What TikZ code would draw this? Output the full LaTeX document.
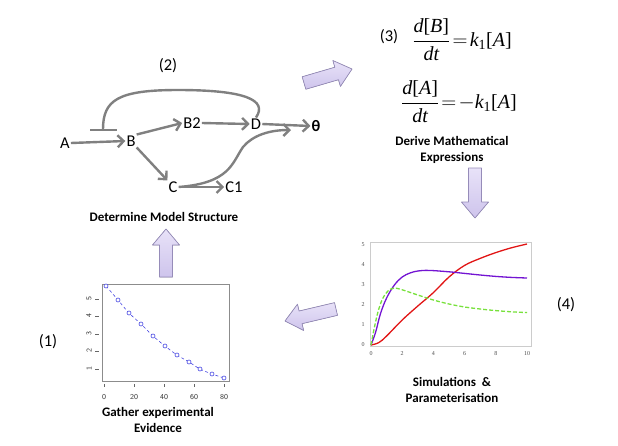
\documentclass[tikz,border=0pt]{standalone}
\usepackage{fontspec}
\usepackage{amsmath}
\setmainfont{Carlito}
\newfontfamily\tms{Liberation Serif}
\usetikzlibrary{arrows.meta,calc}
\definecolor{cgray}{RGB}{128,128,128}
\definecolor{lavtop}{RGB}{232,226,248}
\definecolor{lavbot}{RGB}{206,196,236}
\definecolor{lavborder}{RGB}{150,140,185}
\definecolor{ptblue}{RGB}{70,70,225}
\definecolor{cred}{RGB}{225,20,20}
\definecolor{cpurple}{RGB}{115,20,210}
\definecolor{cgreen}{RGB}{120,225,60}
\newcommand{\ti}[1]{\text{\tms\itshape #1}}
\newcommand{\tu}[1]{\text{\tms #1}}
\newcommand{\blkarrow}[2]{%
  \path ($(#2)!16pt!(#1)$) coordinate (bm);
  \filldraw[barrow] ($(#1)!6.5pt!90:(#2)$) -- ($(bm)!6.5pt!-90:(#1)$) -- ($(bm)!13.5pt!-90:(#1)$) -- (#2)
    -- ($(bm)!13.5pt!90:(#1)$) -- ($(bm)!6.5pt!90:(#1)$) -- ($(#1)!6.5pt!-90:(#2)$) -- cycle;}
\tikzset{
  lbl/.style={font=\fontsize{16.5}{19}\selectfont, inner sep=1pt},
  capt/.style={font=\bfseries\fontsize{13}{15.5}\selectfont, align=center},
  conn/.style={draw=cgray, line width=2.4pt, -{Straight Barb[length=6pt,width=12pt]}},
  inhib/.style={draw=cgray, line width=2.4pt, -{Bar[width=27pt]}},
  barrow/.style={draw=lavborder, line width=0.7pt, top color=lavtop, bottom color=lavbot, line join=round},
  tick1/.style={font=\sffamily\fontsize{7.5}{8}\selectfont, text=black!80},
  tick4/.style={font=\tms\fontsize{6}{7}\selectfont, text=black!70},
  curve/.style={line width=1.3pt},
}
\begin{document}
\begin{tikzpicture}[x=1pt,y=-1pt]
\useasboundingbox (0,0) rectangle (618,445);
% ---------- (2) model structure ----------
\node[lbl] (l2) at (168,66) {(2)};
\node[lbl] (A) at (65,143) {A};
\node[lbl] (B) at (131,141) {B};
\node[lbl] (B2) at (192,123) {B2};
\node[lbl] (D) at (256,124) {D};
\node[lbl, font=\bfseries\fontsize{16}{18}\selectfont] (th) at (316,126) {θ};
\node[lbl] (C) at (173,187) {C};
\node[lbl] (C1) at (234,187) {C1};
\coordinate (inh) at (103,131);
\coordinate (thin) at (291,130);
\draw[conn] (A.east) -- (B.west);
\draw[conn] (B.north east) -- (B2.west);
\draw[conn] (B2.east) -- (D.west);
\draw[conn] (D.east) -- (th.west);
\draw[conn] (B.south east) -- (C.north west);
\draw[conn] (C.east) -- (C1.west);
\draw[inhib] (D.north) .. controls (268,100) and (245,90) .. (178,90) .. controls (118,90) and (103,100) .. (inh);
\draw[conn] (C.east) .. controls (230,183) and (232,163) .. (243,147) .. controls (253,135) and (270,130) .. (thin);
\node[capt] (cap2) at (164,217) {Determine Model Structure};
% ---------- (3) equations ----------
\node[lbl] (l3) at (389,37) {(3)};
\node[font=\tms\fontsize{20}{24}\selectfont, inner sep=0pt] (eq1) at (462,40)
  {$\displaystyle\frac{\ti{d}\tu{[}\ti{B}\tu{]}}{\ti{dt}}\!=\!\ti{k}_{\tu{1}}\tu{[}\ti{A}\tu{]}$};
\node[font=\tms\fontsize{20}{24}\selectfont, inner sep=0pt] (eq2) at (459,102)
  {$\displaystyle\frac{\ti{d}\tu{[}\ti{A}\tu{]}}{\ti{dt}}\!=\!-\ti{k}_{\tu{1}}\tu{[}\ti{A}\tu{]}$};
\node[capt] (cap3) at (452,150) {Derive Mathematical\\Expressions};
% ---------- (4) simulations ----------
\begin{scope}[shift={(371,345)}, x=15.6pt, y=20pt]
  \draw[black!20, line width=0.5pt] (-0.06,-0.05) rectangle (10.25,5.15);
  \foreach \v in {0,...,5} \node[tick4] at (-0.5,\v) {\v};
  \foreach \t in {0,2,4,6,8,10} \node[tick4] at (\t,-0.45) {\t};
  \draw[curve, cred] plot[smooth, tension=0.6] coordinates {(0,0) (0.5,0.12) (1,0.45) (2,1.25) (3,1.95) (4,2.62) (5,3.4) (6,3.98) (7,4.33) (8,4.62) (9,4.86) (10,5.05)};
  \draw[curve, cpurple] plot[smooth, tension=0.6] coordinates {(0,0) (0.3,0.65) (0.6,1.55) (1,2.35) (1.5,3.0) (2,3.4) (2.5,3.6) (3,3.7) (3.7,3.73) (5,3.66) (6,3.58) (7,3.5) (8,3.43) (9,3.38) (10,3.35)};
  \draw[curve, cgreen, dashed, dash pattern=on 4pt off 2pt] plot[smooth, tension=0.6] coordinates {(0,0) (0.25,1.0) (0.5,1.8) (0.8,2.4) (1.2,2.78) (1.5,2.85) (2,2.76) (3,2.5) (4,2.25) (5,2.05) (6,1.9) (7,1.8) (8,1.72) (9,1.66) (10,1.62)};
\end{scope}
\node[lbl] (l4) at (566,305) {(4)};
\node[capt] (cap4) at (452,390) {Simulations \ \&\\Parameterisation};
% ---------- (1) experimental data ----------
\draw[black!45, line width=0.7pt] (102,284) rectangle (229,381);
\foreach \v/\y in {1/369,2/351,3/334,4/316,5/299} {
  \draw[black!60, line width=0.4pt] (95,\y) -- (99,\y);
  \node[tick1, rotate=90] at (89,\y) {\v};
}
\foreach \v/\x in {0/104,20/134,40/164,60/194,80/224} {
  \draw[black!60, line width=0.4pt] (\x,384) -- (\x,387);
  \node[tick1] at (\x,397) {\v};
}
\draw[ptblue, line width=0.6pt, dash pattern=on 3pt off 2.5pt] plot[smooth] coordinates {(106,286) (118,300) (129,313) (141,324) (153,336) (165,346) (177,355) (189,362) (200,369) (212,374) (224,378)};
\foreach \p in {(106,286),(118,300),(129,313),(141,324),(153,336),(165,346),(177,355),(189,362),(200,369),(212,374),(224,378)}
  \draw[ptblue, line width=0.6pt, fill=white] \p circle (2pt);
\node[lbl] (l1) at (48,342) {(1)};
\node[capt] (cap1) at (158,420) {Gather experimental\\Evidence};
% ---------- block arrows ----------
\coordinate (ba1) at (304,83);  \coordinate (ba2) at (352,69);
\coordinate (bb1) at (475,168); \coordinate (bb2) at (475,218);
\coordinate (bc1) at (336,309); \coordinate (bc2) at (285,321);
\coordinate (bd1) at (166,277); \coordinate (bd2) at (166,229);
\blkarrow{ba1}{ba2}
\blkarrow{bb1}{bb2}
\blkarrow{bc1}{bc2}
\blkarrow{bd1}{bd2}
\end{tikzpicture}
\end{document}
